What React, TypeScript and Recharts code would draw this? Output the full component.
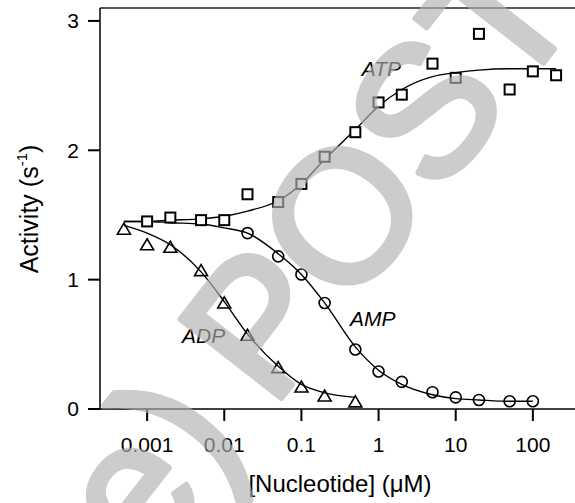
import React from 'react';
import { ComposedChart, Line, Scatter, XAxis, YAxis, ReferenceLine, ReferenceDot, Label } from 'recharts';

// ---- data ----
const xTicks = [0.001, 0.01, 0.1, 1, 10, 100];
const xTickLabels = ['0.001', '0.01', '0.1', '1', '10', '100'];
const yTicks = [0, 1, 2, 3];

const atpX = [0.001, 0.002, 0.005, 0.01, 0.02, 0.05, 0.1, 0.2, 0.5, 1, 2, 5, 10, 20, 50, 100, 200];
const atpY = [1.45, 1.48, 1.46, 1.46, 1.66, 1.6, 1.74, 1.95, 2.14, 2.37, 2.43, 2.67, 2.56, 2.9, 2.47, 2.61, 2.58];

const ampX = [0.02, 0.05, 0.1, 0.2, 0.5, 1, 2, 5, 10, 20, 50, 100];
const ampY = [1.36, 1.18, 1.04, 0.82, 0.46, 0.29, 0.21, 0.13, 0.09, 0.07, 0.06, 0.06];

const adpX = [0.0005, 0.001, 0.002, 0.005, 0.01, 0.02, 0.05, 0.1, 0.2, 0.5];
const adpY = [1.39, 1.27, 1.25, 1.07, 0.82, 0.57, 0.32, 0.17, 0.1, 0.055];

const fitX = [0.0005, 0.001, 0.002, 0.005, 0.01, 0.02, 0.05, 0.1, 0.2, 0.5, 1, 2, 5, 10, 20, 50, 100, 200];
const atpFitY = [1.45, 1.45, 1.46, 1.47, 1.49, 1.53, 1.61, 1.74, 1.93, 2.16, 2.34, 2.47, 2.57, 2.6, 2.62, 2.63, 2.63, 2.63];
const ampFitY = [1.45, 1.45, 1.44, 1.43, 1.4, 1.36, 1.2, 1.04, 0.82, 0.48, 0.3, 0.19, 0.11, 0.08, 0.07, 0.06, 0.06];
const adpFitY = [1.42, 1.36, 1.27, 1.06, 0.83, 0.58, 0.33, 0.19, 0.125, 0.09];

const seriesNames = ['ATP', 'AMP', 'ADP'];
const labelAnchors = [
  { x: 1.09, y: 2.63 },
  { x: 0.84, y: 0.7 },
  { x: 0.0054, y: 0.57 },
];

const watermarkText = 'POSTER';
const watermarkLead = 'e)';

const zip = (xs: number[], ys: number[]) => ys.map((y, i) => ({ x: xs[i], y }));

const atpPts = zip(atpX, atpY);
const ampPts = zip(ampX, ampY);
const adpPts = zip(adpX, adpY);
const atpFit = zip(fitX, atpFitY);
const ampFit = zip(fitX, ampFitY);
const adpFit = zip(fitX, adpFitY);

const FONT = '"Liberation Sans", Arial, sans-serif';

const SquareShape = (p: any) => (
  <rect x={p.cx - 5} y={p.cy - 5} width={10} height={10} fill="#fff" stroke="#000" strokeWidth={2} />
);
const CircleShape = (p: any) => (
  <circle cx={p.cx} cy={p.cy} r={5.5} fill="none" stroke="#000" strokeWidth={1.6} />
);
const TriShape = (p: any) => (
  <polygon
    points={`${p.cx - 6.5},${p.cy + 5} ${p.cx + 6.5},${p.cy + 5} ${p.cx},${p.cy - 6}`}
    fill="none"
    stroke="#000"
    strokeWidth={1.6}
  />
);

export default function App() {
  const fs = 186;
  return (
    <div style={{ position: 'absolute', left: 0, top: 0, width: 575, height: 503, overflow: 'hidden', background: '#fff' }}>
      <ComposedChart width={640} height={503} margin={{ top: 8, right: 30, bottom: 0, left: 0 }}>
        <XAxis
          dataKey="x"
          type="number"
          scale="log"
          domain={[0.000245, 1000]}
          allowDataOverflow
          ticks={xTicks}
          tickFormatter={(v: number) => xTickLabels[xTicks.indexOf(v)] ?? String(v)}
          height={94}
          tickSize={12}
          tickMargin={16}
          axisLine={{ stroke: '#000', strokeWidth: 1.5 }}
          tickLine={{ stroke: '#000', strokeWidth: 2 }}
          tick={{ fill: '#000', fontSize: 21, fontFamily: FONT }}
        >
          <Label
            content={() => (
              <text x={340} y={492} textAnchor="middle" fontSize={24} fontFamily={FONT} fill="#000">
                [Nucleotide] (μM)
              </text>
            )}
          />
        </XAxis>
        <YAxis
          type="number"
          domain={[0, 3.1]}
          ticks={yTicks}
          width={100}
          tickSize={12}
          tickMargin={9}
          axisLine={{ stroke: '#000', strokeWidth: 1.5 }}
          tickLine={{ stroke: '#000', strokeWidth: 2 }}
          tick={{ fill: '#000', fontSize: 21, fontFamily: FONT }}
        >
          <Label
            content={() => (
              <text transform="translate(38,209) rotate(-90)" textAnchor="middle" fontSize={25} fontFamily={FONT} fill="#000">
                Activity (s
                <tspan dy={-11} fontSize={15}>-1</tspan>
                <tspan dy={11}>)</tspan>
              </text>
            )}
          />
        </YAxis>
        <ReferenceLine y={3.1} stroke="#222" strokeWidth={1.5} ifOverflow="visible" />
        <Line data={atpFit} dataKey="y" type="monotone" stroke="#000" strokeWidth={1.4} dot={false} isAnimationActive={false} />
        <Line data={ampFit} dataKey="y" type="monotone" stroke="#000" strokeWidth={1.4} dot={false} isAnimationActive={false} />
        <Line data={adpFit} dataKey="y" type="monotone" stroke="#000" strokeWidth={1.4} dot={false} isAnimationActive={false} />
        <Scatter data={atpPts} dataKey="y" shape={SquareShape} isAnimationActive={false} />
        <Scatter data={ampPts} dataKey="y" shape={CircleShape} isAnimationActive={false} />
        <Scatter data={adpPts} dataKey="y" shape={TriShape} isAnimationActive={false} />
        {labelAnchors.map((a, i) => (
          <ReferenceDot
            key={seriesNames[i]}
            x={a.x}
            y={a.y}
            r={0}
            stroke="none"
            fill="none"
            label={{ value: seriesNames[i], position: 'center', fill: '#000', fontSize: 21, fontStyle: 'italic', fontFamily: FONT }}
          />
        ))}
      </ComposedChart>
      <svg width={575} height={503} style={{ position: 'absolute', left: 0, top: 0, pointerEvents: 'none' }}>
        <g
          transform="translate(272,410) rotate(-52)"
          fontFamily={FONT}
          fontSize={fs}
          fill="#b1b1b1"
          stroke="#b1b1b1"
          strokeWidth={6}
          strokeLinejoin="round"
          opacity={0.65}
        >
          <text x={0} y={0} textAnchor="start">{watermarkText}</text>
          <text x={-0.21 * fs} y={0} textAnchor="end">{watermarkLead}</text>
        </g>
      </svg>
    </div>
  );
}
